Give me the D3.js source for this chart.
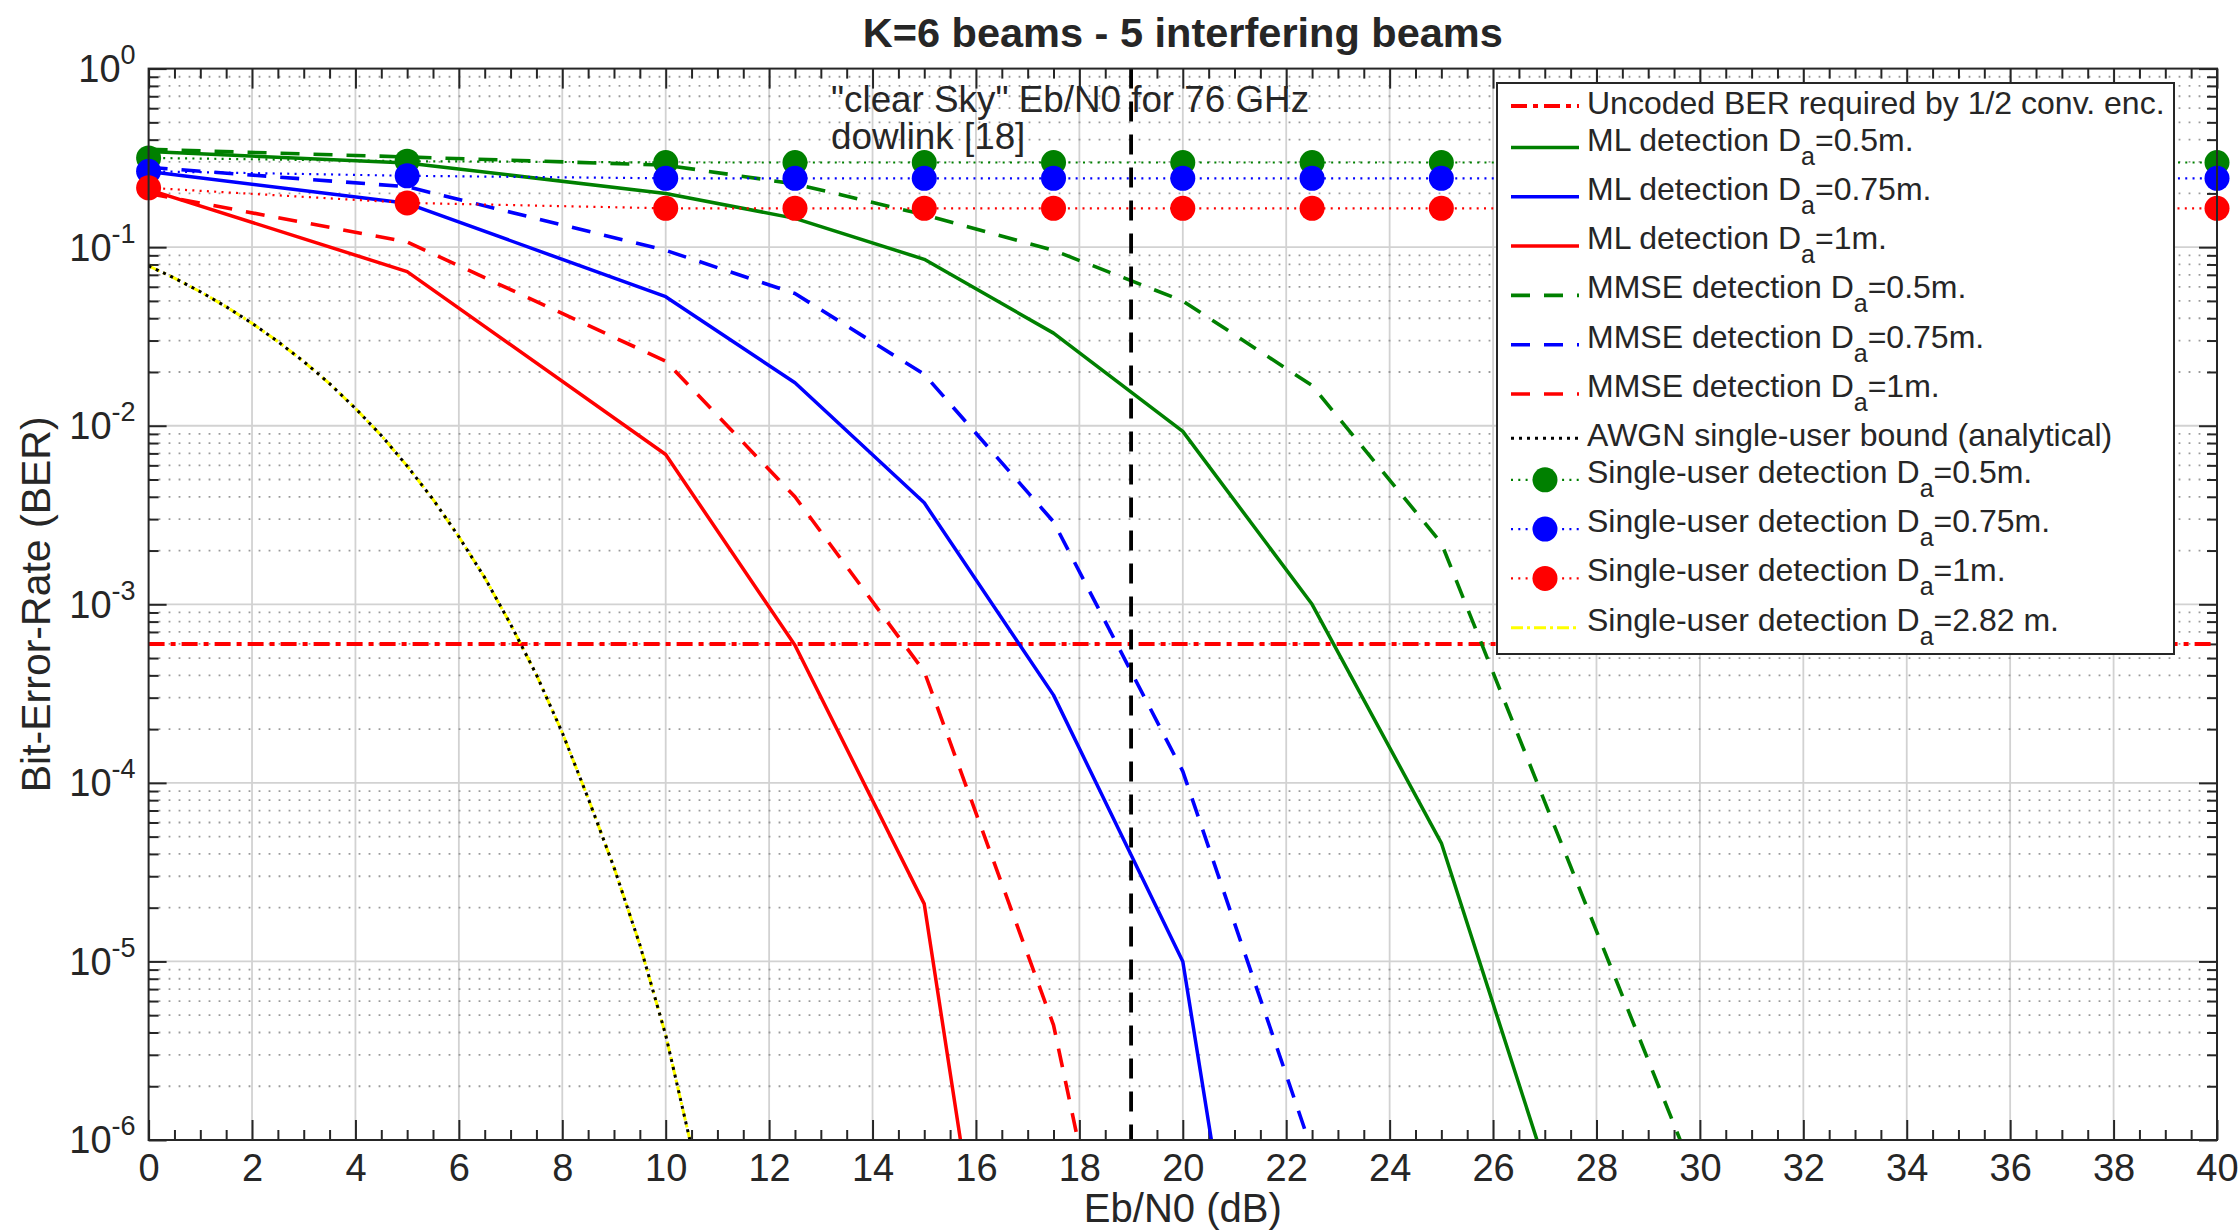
<!DOCTYPE html>
<html><head><meta charset="utf-8">
<script src="https://cdn.jsdelivr.net/npm/d3@7"></script>
<style>
body{margin:0;background:#fff}
svg{display:block}
text{font-family:"Liberation Sans",Arial,Helvetica,sans-serif;fill:#262626}
</style>
</head><body>
<svg id="chart" width="2240" height="1230"></svg>
<script>
// ---------------- data ----------------
const titleText = "K=6 beams - 5 interfering beams";
const xLabelText = "Eb/N0 (dB)";
const yLabelText = "Bit-Error-Rate (BER)";
const xTickValues = [0,2,4,6,8,10,12,14,16,18,20,22,24,26,28,30,32,34,36,38,40];
const yTickExponents = [0,-1,-2,-3,-4,-5,-6];
const annotationLines = ['"clear Sky" Eb/N0 for 76 GHz', 'dowlink [18]'];

const ebn0ML05 = [0,5,10,12.5,15,17.5,20,22.5,25,27.5];
const berML05  = [0.343,0.296,0.2,0.145,0.0855,0.033,0.0093,0.001,4.6e-5,2.6e-7];
const ebn0ML075 = [0,5,10,12.5,15,17.5,20,22.5];
const berML075  = [0.265,0.176,0.0528,0.0174,0.0037,3.1e-4,1.0e-5,3e-10];
const ebn0ML1 = [0,5,10,12.5,15,17.5];
const berML1  = [0.21,0.073,0.0069,5.9e-4,2.1e-5,4e-10];

const ebn0MMSE05 = [0,5,10,12.5,15,17.5,20,22.5,25,27.5,30];
const berMMSE05  = [0.353,0.32,0.288,0.226,0.152,0.096,0.05,0.0168,0.0022,3.4e-5,5.3e-7];
const ebn0MMSE075 = [0,5,10,12.5,15,17.5,20,22.5];
const berMMSE075  = [0.28,0.218,0.096,0.055,0.0194,0.0029,1.16e-4,8.7e-7];
const ebn0MMSE1 = [0,5,10,12.5,15,17.5,20];
const berMMSE1  = [0.2,0.107,0.023,0.004,4.2e-4,4.4e-6,1.7e-9];

const ebn0AWGN = [0,0.5,1,1.5,2,2.5,3,3.5,4,4.5,5,5.5,6,6.5,7,7.5,8,8.5,9,9.5,10,10.5,11];
const berAWGN  = [0.0786,0.0671,0.0563,0.0464,0.0375,0.0296,0.0229,0.0172,0.0125,0.00882,0.00595,0.00387,0.00239,0.00141,7.73e-4,4.03e-4,1.91e-4,8.2e-5,3.36e-5,1.24e-5,3.87e-6,9.1e-7,2.6e-7];
const ebn0SU282 = [0,0.5,1,1.5,2,2.5,3,3.5,4,4.5,5,5.5,6,6.5,7,7.5,8,8.5,9,9.5,10,10.5,11];
const berSU282  = [0.0786,0.0671,0.0563,0.0464,0.0375,0.0296,0.0229,0.0172,0.0125,0.00882,0.00595,0.00387,0.00239,0.00141,7.73e-4,4.03e-4,1.91e-4,8.2e-5,3.36e-5,1.24e-5,3.87e-6,9.1e-7,2.6e-7];

const ebn0SU = [0,5,10,12.5,15,17.5,20,22.5,25,40];
const berSU05  = [0.316,0.303,0.298,0.298,0.298,0.298,0.298,0.298,0.298,0.298];
const berSU075 = [0.266,0.251,0.243,0.243,0.243,0.243,0.243,0.243,0.243,0.243];
const berSU1   = [0.215,0.177,0.165,0.165,0.165,0.165,0.165,0.165,0.165,0.165];

const uncodedBER = 6.0e-4;
const clearSkyEbN0 = 19;

const legendLabels = [
  ["Uncoded BER required by 1/2 conv. enc."],
  ["ML detection D","a","=0.5m."],
  ["ML detection D","a","=0.75m."],
  ["ML detection D","a","=1m."],
  ["MMSE detection D","a","=0.5m."],
  ["MMSE detection D","a","=0.75m."],
  ["MMSE detection D","a","=1m."],
  ["AWGN single-user bound (analytical)"],
  ["Single-user detection D","a","=0.5m."],
  ["Single-user detection D","a","=0.75m."],
  ["Single-user detection D","a","=1m."],
  ["Single-user detection D","a","=2.82 m."]
];

// ---------------- layout ----------------
const L = 148.6, R = 2217, T = 68.6, B = 1140;
const GREEN = "#008000", BLUE = "#0000ff", RED = "#ff0000", YEL = "#ffff00", AX = "#262626";

const svg = d3.select("#chart");
svg.append("rect").attr("width",2240).attr("height",1230).attr("fill","#fff");

const x = d3.scaleLinear().domain([0,40]).range([L,R]);
const y = d3.scaleLog().domain([1e-6,1]).range([B,T]);

svg.append("defs").append("clipPath").attr("id","clip")
  .append("rect").attr("x",L).attr("y",T).attr("width",R-L).attr("height",B-T);

// grid
const minorY = [];
for (let k=-6;k<0;k++) for (let m=2;m<=9;m++) minorY.push(m*Math.pow(10,k));
const majorY = yTickExponents.map(e=>Math.pow(10,e)).filter(v=>v<1 && v>1e-6);
const majorX = xTickValues.filter(v=>v>0 && v<40);

const grid = svg.append("g");
grid.selectAll(".gx").data(majorX).enter().append("line")
  .attr("x1",d=>x(d)).attr("x2",d=>x(d)).attr("y1",T).attr("y2",B)
  .attr("stroke","#d2d2d2").attr("stroke-width",1.8);
grid.selectAll(".gy").data(majorY).enter().append("line")
  .attr("x1",L).attr("x2",R).attr("y1",d=>y(d)).attr("y2",d=>y(d))
  .attr("stroke","#d2d2d2").attr("stroke-width",1.8);
grid.selectAll(".gm").data(minorY).enter().append("line")
  .attr("x1",L).attr("x2",R).attr("y1",d=>y(d)).attr("y2",d=>y(d))
  .attr("stroke","#9a9a9a").attr("stroke-width",1.8).attr("stroke-dasharray","1.8,8.2");

// axes (ticks inward, mirrored)
const minorX = d3.range(0,40.001,0.5).filter(v=>v%2!==0);
function styleAxis(g){ g.select(".domain").remove(); g.selectAll(".tick line").attr("stroke",AX).attr("stroke-width",2); }

const axB = svg.append("g").attr("transform",`translate(0,${B})`)
  .call(d3.axisBottom(x).tickValues(xTickValues).tickSizeInner(-20).tickSizeOuter(0).tickPadding(14).tickFormat(d3.format("d")));
styleAxis(axB);
axB.selectAll("text").attr("font-size",38).attr("fill",AX).style("font-family",'"Liberation Sans",Arial,sans-serif');
const axBm = svg.append("g").attr("transform",`translate(0,${B})`)
  .call(d3.axisBottom(x).tickValues(minorX).tickSizeInner(-10).tickSizeOuter(0).tickFormat(""));
styleAxis(axBm);
const axT = svg.append("g").attr("transform",`translate(0,${T})`)
  .call(d3.axisTop(x).tickValues(xTickValues).tickSizeInner(-20).tickSizeOuter(0).tickFormat(""));
styleAxis(axT);
const axTm = svg.append("g").attr("transform",`translate(0,${T})`)
  .call(d3.axisTop(x).tickValues(minorX).tickSizeInner(-10).tickSizeOuter(0).tickFormat(""));
styleAxis(axTm);

const decades = yTickExponents.map(e=>Math.pow(10,e));
const axLft = svg.append("g").attr("transform",`translate(${L},0)`)
  .call(d3.axisLeft(y).tickValues(decades).tickSizeInner(-18).tickSizeOuter(0).tickPadding(13).tickFormat(""));
styleAxis(axLft);
axLft.selectAll(".tick text").each(function(d){
  const t = d3.select(this).attr("font-size",38).attr("fill",AX).attr("dy","0.34em")
    .style("font-family",'"Liberation Sans",Arial,sans-serif');
  t.append("tspan").text("10");
  t.append("tspan").attr("dy",-18).attr("font-size",27).text(String(Math.round(Math.log10(d))));
});
const axLm = svg.append("g").attr("transform",`translate(${L},0)`)
  .call(d3.axisLeft(y).tickValues(minorY).tickSizeInner(-10).tickSizeOuter(0).tickFormat(""));
styleAxis(axLm);
const axR = svg.append("g").attr("transform",`translate(${R},0)`)
  .call(d3.axisRight(y).tickValues(decades).tickSizeInner(-18).tickSizeOuter(0).tickFormat(""));
styleAxis(axR);
const axRm = svg.append("g").attr("transform",`translate(${R},0)`)
  .call(d3.axisRight(y).tickValues(minorY).tickSizeInner(-10).tickSizeOuter(0).tickFormat(""));
styleAxis(axRm);

// curves
const plot = svg.append("g").attr("clip-path","url(#clip)");
const line = d3.line().x(d=>x(d[0])).y(d=>y(d[1]));
function zip(a,b){ return a.map((v,i)=>[v,b[i]]); }

const styles = {
  uncoded: {color:RED, w:4, dash:"16,6,5,6"},
  ml:      {w:3.5, dash:null},
  mmse:    {w:3.6, dash:"19,14"},
  awgn:    {color:"#000", w:3, dash:"3,5"},
  su282:   {color:YEL, w:3, dash:"12,4,3,4"},
  su:      {w:2.2, dash:"2,5.3"}
};

// uncoded line
plot.append("line").attr("x1",L).attr("x2",R).attr("y1",y(uncodedBER)).attr("y2",y(uncodedBER))
  .attr("stroke",RED).attr("stroke-width",styles.uncoded.w).attr("stroke-dasharray",styles.uncoded.dash);

const curveSeries = [
  {x:ebn0ML05,y:berML05,color:GREEN,st:styles.ml},
  {x:ebn0ML075,y:berML075,color:BLUE,st:styles.ml},
  {x:ebn0ML1,y:berML1,color:RED,st:styles.ml},
  {x:ebn0MMSE05,y:berMMSE05,color:GREEN,st:styles.mmse},
  {x:ebn0MMSE075,y:berMMSE075,color:BLUE,st:styles.mmse},
  {x:ebn0MMSE1,y:berMMSE1,color:RED,st:styles.mmse},
  {x:ebn0SU282,y:berSU282,color:YEL,st:styles.su282},
  {x:ebn0AWGN,y:berAWGN,color:"#000",st:styles.awgn}
];
curveSeries.forEach(s=>{
  plot.append("path").attr("d",line(zip(s.x,s.y))).attr("fill","none")
    .attr("stroke",s.color).attr("stroke-width",s.st.w)
    .attr("stroke-dasharray",s.st.dash).attr("stroke-linejoin","round");
});

const suSeries = [
  {y:berSU05,color:GREEN},{y:berSU075,color:BLUE},{y:berSU1,color:RED}
];
suSeries.forEach(s=>{
  plot.append("path").attr("d",line(zip(ebn0SU,s.y))).attr("fill","none")
    .attr("stroke",s.color).attr("stroke-width",styles.su.w).attr("stroke-dasharray",styles.su.dash);
});
suSeries.forEach(s=>{
  svg.append("g").selectAll("circle").data(zip(ebn0SU,s.y)).enter().append("circle")
    .attr("cx",d=>x(d[0])).attr("cy",d=>y(d[1])).attr("r",12.5).attr("fill",s.color);
});

// vertical clear-sky line
plot.append("line").attr("x1",x(clearSkyEbN0)).attr("x2",x(clearSkyEbN0)).attr("y1",T).attr("y2",B)
  .attr("stroke","#000").attr("stroke-width",3.8).attr("stroke-dasharray","20,13");

// annotation
annotationLines.forEach((t,i)=>{
  svg.append("text").attr("x",831).attr("y",112+i*37).attr("font-size",36.8).attr("fill","#000").text(t);
});

// frame
svg.append("rect").attr("x",L).attr("y",T).attr("width",R-L).attr("height",B-T)
  .attr("fill","none").attr("stroke",AX).attr("stroke-width",2);

// title & labels
svg.append("text").attr("x",(L+R)/2).attr("y",47).attr("text-anchor","middle")
  .attr("font-size",41.5).attr("font-weight","bold").attr("fill","#000").text(titleText);
svg.append("text").attr("x",(L+R)/2).attr("y",1222).attr("text-anchor","middle")
  .attr("font-size",40).attr("fill",AX).text(xLabelText);
svg.append("text").attr("transform",`translate(50,${(T+B)/2}) rotate(-90)`).attr("text-anchor","middle")
  .attr("font-size",41).attr("fill",AX).text(yLabelText);

// legend
const lg = svg.append("g");
lg.append("rect").attr("x",1497).attr("y",83).attr("width",677).attr("height",571)
  .attr("fill","#fff").attr("stroke",AX).attr("stroke-width",2);
const legendStyles = [
  {color:RED, st:styles.uncoded},
  {color:GREEN, st:styles.ml},{color:BLUE, st:styles.ml},{color:RED, st:styles.ml},
  {color:GREEN, st:styles.mmse},{color:BLUE, st:styles.mmse},{color:RED, st:styles.mmse},
  {color:"#000", st:styles.awgn},
  {color:GREEN, st:styles.su, marker:true},{color:BLUE, st:styles.su, marker:true},{color:RED, st:styles.su, marker:true},
  {color:YEL, st:styles.su282}
];
let cy = 103, prevSub = false;
legendLabels.forEach((parts,i)=>{
  if (i>0) cy += prevSub ? 49.3 : 36.5;
  const hasSub = parts.length>1;
  const ls = legendStyles[i];
  const ly = cy + (hasSub ? 8 : 3);
  lg.append("line").attr("x1",1511).attr("x2",1579).attr("y1",ly).attr("y2",ly)
    .attr("stroke",ls.color).attr("stroke-width",ls.st.w).attr("stroke-dasharray",ls.st.dash);
  if (ls.marker) lg.append("circle").attr("cx",1545).attr("cy",ly).attr("r",12.5).attr("fill",ls.color);
  const t = lg.append("text").attr("x",1587).attr("y",cy+11).attr("font-size",32).attr("fill","#000");
  t.append("tspan").text(parts[0]);
  if (hasSub) {
    t.append("tspan").attr("dy",14).attr("font-size",25).text(parts[1]);
    t.append("tspan").attr("dy",-14).text(parts[2]);
  }
  prevSub = hasSub;
});
</script>
</body></html>
